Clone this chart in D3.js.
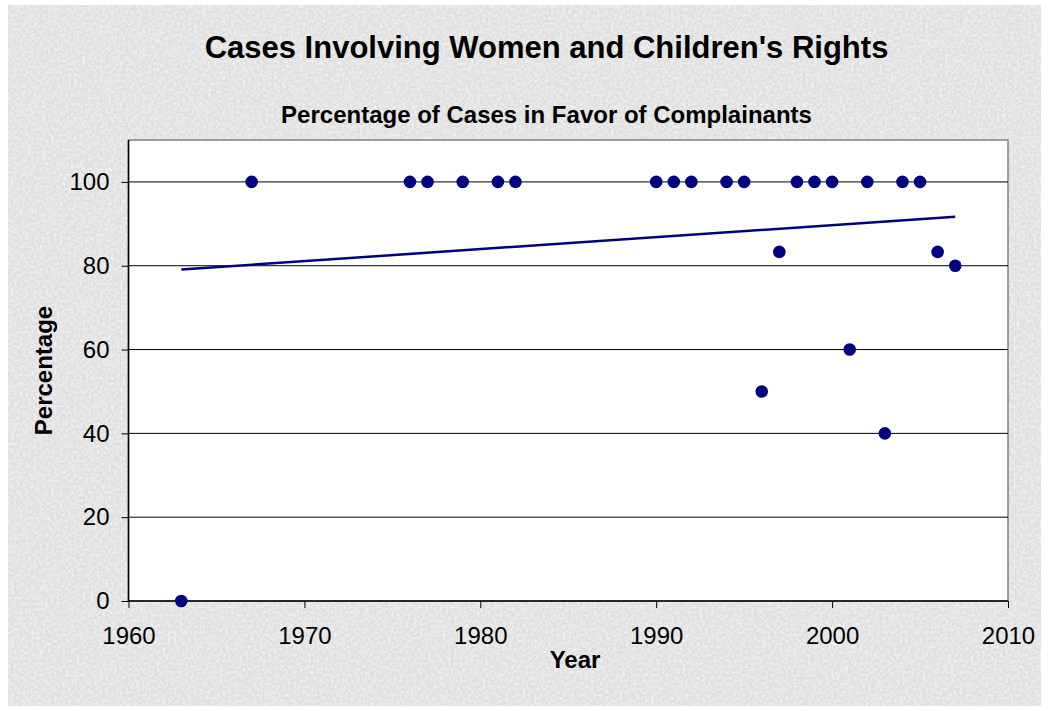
<!DOCTYPE html>
<html>
<head>
<meta charset="utf-8">
<script src="https://cdn.jsdelivr.net/npm/d3@7"></script>
<style>
  body { margin: 0; background: #fff; }
  text { font-family: "Liberation Sans", Arial, sans-serif; }
</style>
</head>
<body>
<svg id="chart" width="1049" height="711"></svg>
<script>
// data
const years = [1963, 1967, 1976, 1977, 1979, 1981, 1982, 1990, 1991, 1992, 1994, 1995,
               1996, 1997, 1998, 1999, 2000, 2001, 2002, 2003, 2004, 2005, 2006, 2007];
const percents = [0, 100, 100, 100, 100, 100, 100, 100, 100, 100, 100, 100,
                  50, 83.3, 100, 100, 100, 60, 100, 40, 100, 100, 83.3, 80];
const xTicks = [1960, 1970, 1980, 1990, 2000, 2010];
const yTicks = [0, 20, 40, 60, 80, 100];

const title = "Cases Involving Women and Children's Rights";
const subtitle = "Percentage of Cases in Favor of Complainants";

const data = years.map((y, i) => ({ year: y, pct: percents[i] }));

const svg = d3.select("#chart");

// textured grey background
const defs = svg.append("defs");
const filt = defs.append("filter").attr("id", "paper")
  .attr("x", 0).attr("y", 0).attr("width", "100%").attr("height", "100%");
filt.append("feTurbulence").attr("type", "fractalNoise")
  .attr("baseFrequency", 0.35).attr("numOctaves", 2).attr("seed", 7).attr("result", "noise");
filt.append("feColorMatrix").attr("in", "noise").attr("type", "matrix")
  .attr("values", "0 0 0 0 1  0 0 0 0 1  0 0 0 0 1  0 0 0 -1.2 0.75").attr("result", "spots");
filt.append("feComposite").attr("in", "spots").attr("in2", "SourceGraphic").attr("operator", "over");

svg.append("rect")
  .attr("x", 8).attr("y", 5).attr("width", 1033).attr("height", 701)
  .attr("fill", "#e0e0e0")
  .attr("filter", "url(#paper)");

const plot = { left: 128.5, top: 140, right: 1008, bottom: 601 };

const x = d3.scaleLinear().domain([1960, 2010]).range([plot.left, plot.right]);
const y = d3.scaleLinear().domain([0, 110]).range([plot.bottom, plot.top]);

// plot area
svg.append("rect")
  .attr("x", plot.left).attr("y", plot.top)
  .attr("width", plot.right - plot.left).attr("height", plot.bottom - plot.top)
  .attr("fill", "#fff")
  .attr("stroke", "#808080").attr("stroke-width", 1.5);

// gridlines
svg.append("g").selectAll("line")
  .data(yTicks.filter(d => d > 0))
  .join("line")
  .attr("x1", plot.left).attr("x2", plot.right)
  .attr("y1", d => y(d)).attr("y2", d => y(d))
  .attr("stroke", "#000").attr("stroke-width", 1);

// axes
const yAxis = svg.append("g")
  .attr("transform", `translate(${plot.left},0)`)
  .call(d3.axisLeft(y).tickValues(yTicks).tickSize(7).tickPadding(12).tickFormat(d3.format("d")));
const xAxis = svg.append("g")
  .attr("transform", `translate(0,${plot.bottom})`)
  .call(d3.axisBottom(x).tickValues(xTicks).tickSize(7).tickPadding(19).tickFormat(d3.format("d")));

[yAxis, xAxis].forEach(a => {
  a.select(".domain").attr("stroke", "#000").attr("stroke-width", 1.5);
  a.selectAll(".tick line").attr("stroke", "#000");
  a.selectAll(".tick text")
    .attr("font-family", "'Liberation Sans', Arial, sans-serif")
    .attr("font-size", 24).attr("fill", "#000");
});
yAxis.select(".domain").attr("d", `M0,${plot.top}V${plot.bottom}`);
xAxis.select(".domain").attr("d", `M${plot.left},0H${plot.right}`);

// linear trend line (least squares)
const mx = d3.mean(data, d => d.year), my = d3.mean(data, d => d.pct);
const slope = d3.sum(data, d => (d.year - mx) * (d.pct - my)) / d3.sum(data, d => (d.year - mx) ** 2);
const icpt = my - slope * mx;
const x0 = d3.min(years), x1 = d3.max(years);
svg.append("line")
  .attr("x1", x(x0)).attr("y1", y(icpt + slope * x0))
  .attr("x2", x(x1)).attr("y2", y(icpt + slope * x1))
  .attr("stroke", "#000080").attr("stroke-width", 2.5);

// points
svg.append("g").selectAll("circle")
  .data(data)
  .join("circle")
  .attr("cx", d => x(d.year))
  .attr("cy", d => y(d.pct))
  .attr("r", 6.3)
  .attr("fill", "#000080");

// titles
svg.append("text")
  .attr("x", 546.5).attr("y", 58)
  .attr("text-anchor", "middle")
  .attr("font-size", 31).attr("font-weight", "bold")
  .text(title);

svg.append("text")
  .attr("x", 546.5).attr("y", 123)
  .attr("text-anchor", "middle")
  .attr("font-size", 24).attr("font-weight", "bold")
  .text(subtitle);

svg.append("text")
  .attr("x", 575).attr("y", 668)
  .attr("text-anchor", "middle")
  .attr("font-size", 24).attr("font-weight", "bold")
  .text("Year");

svg.append("text")
  .attr("transform", `translate(52,${(plot.top + plot.bottom) / 2}) rotate(-90)`)
  .attr("text-anchor", "middle")
  .attr("font-size", 24).attr("font-weight", "bold")
  .text("Percentage");
</script>
</body>
</html>
